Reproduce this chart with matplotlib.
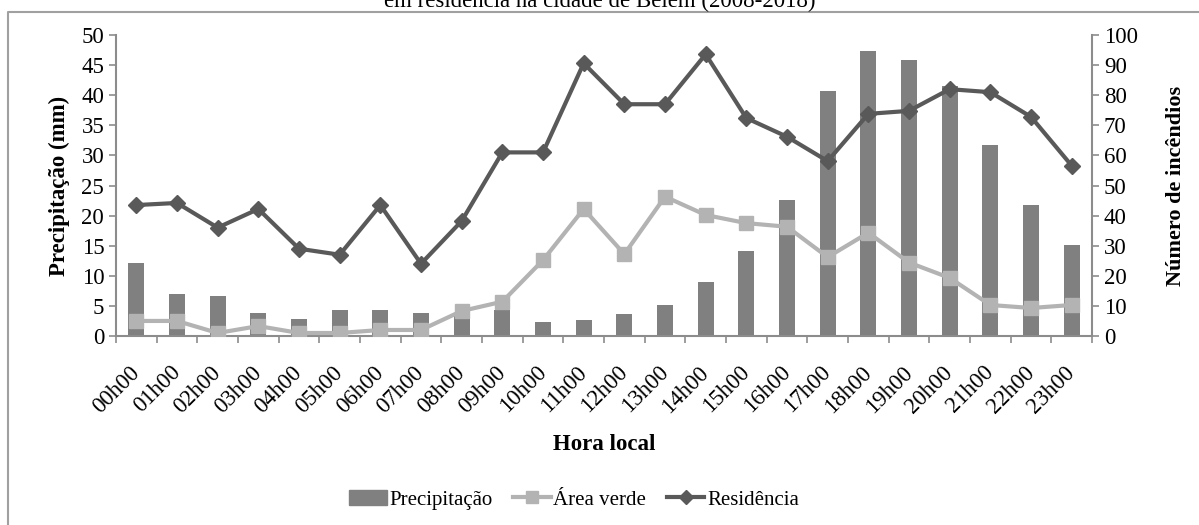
import numpy as np
import matplotlib.pyplot as plt
from matplotlib.lines import Line2D
from matplotlib.patches import Patch

plt.rcParams['font.family'] = ['Liberation Serif', 'DejaVu Serif']

# Data
horas = ['00h00', '01h00', '02h00', '03h00', '04h00', '05h00', '06h00', '07h00',
         '08h00', '09h00', '10h00', '11h00', '12h00', '13h00', '14h00', '15h00',
         '16h00', '17h00', '18h00', '19h00', '20h00', '21h00', '22h00', '23h00']
precipitacao = [12.2, 7.0, 6.7, 3.8, 2.8, 4.3, 4.3, 3.8, 3.3, 4.4, 2.3, 2.7,
                3.7, 5.2, 9.0, 14.1, 22.6, 40.7, 47.3, 45.8, 41.5, 31.7, 21.8, 15.1]
area_verde = [5, 5, 1, 3.3, 1, 1, 2, 2, 8.3, 11.4, 25.2, 42.2,
              27.2, 46.3, 40.2, 37.5, 36.3, 26.2, 34.3, 24.4, 19.3, 10.3, 9.3, 10.3]
residencia = [43.5, 44.2, 36, 42.2, 29, 27, 43.5, 24, 38.2, 61, 61, 90.6,
              77, 77, 93.6, 72.4, 66.2, 58.1, 73.8, 74.8, 82, 81, 72.8, 56.6]

c_bar = '#808080'
c_verde = '#b3b3b3'
c_res = '#595959'
c_axis = '#8c8c8c'
fs = 16.5

fig = plt.figure(figsize=(11.99, 5.25), dpi=100)
ax = fig.add_axes([116 / 1199, 1 - 336 / 525, (1092 - 116) / 1199, (336 - 35) / 525])
x = np.arange(len(horas))

ax.bar(x, precipitacao, width=0.4, color=c_bar, zorder=1)
ax.set_xlim(-0.5, len(horas) - 0.5)
ax.set_ylim(0, 50)
ax.set_yticks(np.arange(0, 51, 5))

ax2 = ax.twinx()
ax2.plot(x, area_verde, color=c_verde, linewidth=3, marker='s', markersize=10, zorder=3)
ax2.plot(x, residencia, color=c_res, linewidth=3, marker='D', markersize=8.5, zorder=4)
ax2.set_ylim(0, 100)
ax2.set_yticks(np.arange(0, 101, 10))

for a in (ax, ax2):
    for s in a.spines.values():
        s.set_visible(False)
    a.tick_params(labelsize=fs, color=c_axis, length=5, width=1.2)
ax.spines['left'].set_visible(True)
ax.spines['bottom'].set_visible(True)
ax2.spines['right'].set_visible(True)
for s in (ax.spines['left'], ax.spines['bottom'], ax2.spines['right']):
    s.set_color(c_axis)
    s.set_linewidth(1.5)

ax.set_xticks(x)
ax.set_xticklabels(horas, rotation=45, ha='right', va='center', rotation_mode='anchor')
ax.set_xticks(np.arange(-0.5, len(horas), 1), minor=True)
ax.tick_params(axis='x', which='major', length=0, pad=24)
ax.tick_params(axis='x', which='minor', length=5, color=c_axis, width=1.2)

ax.set_ylabel('Precipitação (mm)', fontsize=fs, fontweight='bold', labelpad=8)
ax2.set_ylabel('Número de incêndios', fontsize=fs - 0.5, fontweight='bold', labelpad=20)
fig.text(604 / 1199, 1 - 445 / 525, 'Hora local', fontsize=fs, fontweight='bold',
         ha='center', va='center')

fig.text(0.5, 1 - 7 / 525, 'em residência na cidade de Belém (2008-2018)', fontsize=fs,
         ha='center', va='baseline')

# frame
fig.add_artist(Line2D([8 / 1199, 8 / 1199, 1], [0, 1 - 12 / 525, 1 - 12 / 525],
                      transform=fig.transFigure, color='#a0a0a0', linewidth=1.5))

handles = [Patch(color=c_bar),
           Line2D([], [], color=c_verde, linewidth=3, marker='s', markersize=9),
           Line2D([], [], color=c_res, linewidth=3, marker='D', markersize=7)]
fig.legend(handles, ['Precipitação', 'Área verde', 'Residência'], loc='center',
           bbox_to_anchor=(574 / 1199, 1 - 500 / 525), ncol=3, frameon=False,
           fontsize=15, handlelength=1.8, handletextpad=0.12, columnspacing=1.0)

fig.savefig('out.png', dpi=100)
